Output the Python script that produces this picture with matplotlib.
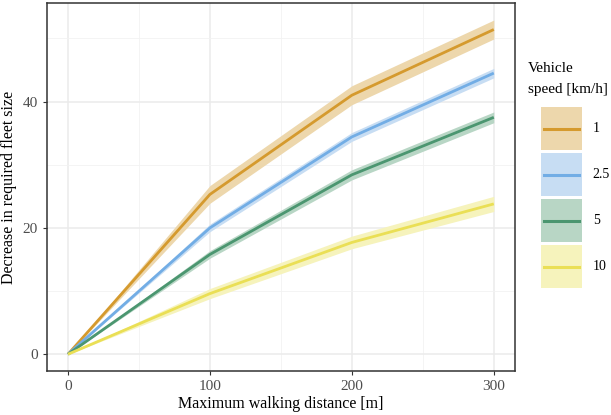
import numpy as np
import matplotlib
matplotlib.use("Agg")
import matplotlib.pyplot as plt
from matplotlib.patches import Rectangle
from matplotlib.lines import Line2D

plt.rcParams['font.family'] = ['Liberation Serif', 'DejaVu Serif']

# data
walk = [0, 100, 200, 300]
speeds = ['1', '2.5', '5', '10']
mean = {
    '1':   [0, 25.3, 41.0, 51.4],
    '2.5': [0, 20.0, 34.4, 44.5],
    '5':   [0, 15.8, 28.4, 37.5],
    '10':  [0, 9.6, 17.7, 23.8],
}
halfwidth = {
    '1':   [0, 1.4, 1.5, 1.5],
    '2.5': [0, 0.6, 0.7, 0.75],
    '5':   [0, 0.6, 0.8, 0.85],
    '10':  [0, 0.8, 1.0, 1.2],
}
line_col = {'1': '#D59A2E', '2.5': '#72ADE5', '5': '#4B9670', '10': '#EADF55'}
fill_col = {'1': '#EDD7AC', '2.5': '#C7DDF3', '5': '#B8D6C5', '10': '#F6F3BC'}


class KeyHandler:
    # filled key box with a centred line, like ggplot ribbon+line keys
    def legend_artist(self, legend, orig_handle, fontsize, handlebox):
        fill, line = orig_handle
        x0, y0 = -handlebox.xdescent, -handlebox.ydescent
        w, h = handlebox.width, handlebox.height
        tr = handlebox.get_transform()
        rect = Rectangle((x0, y0), w, h, facecolor=fill, edgecolor='none', transform=tr)
        ln = Line2D([x0 + 0.07 * w, x0 + 0.93 * w], [y0 + h / 2] * 2, color=line,
                    lw=2.2, transform=tr)
        handlebox.add_artist(rect)
        handlebox.add_artist(ln)
        return rect


fig = plt.figure(figsize=(6.11, 4.15), dpi=100)
ax = fig.add_axes([0.0764, 0.106, 0.843 - 0.0764, 0.9928 - 0.106])

handles = []
for s in speeds:
    m = np.array(mean[s])
    h = np.array(halfwidth[s])
    ax.fill_between(walk, m - h, m + h, color=fill_col[s], lw=0, zorder=2)
for s in speeds:
    ax.plot(walk, mean[s], color=line_col[s], lw=2, zorder=3, solid_capstyle='butt')
    handles.append((fill_col[s], line_col[s]))

ax.set_xlim(-15, 315)
ax.set_ylim(-2.65, 55.6)
ax.set_xticks([0, 100, 200, 300])
ax.set_yticks([0, 20, 40])
ax.set_xticks([50, 150, 250], minor=True)
ax.set_yticks([10, 30, 50], minor=True)
ax.grid(which='major', color='#EBEBEB', lw=1.1, zorder=0)
ax.grid(which='minor', color='#F2F2F2', lw=0.6, zorder=0)
ax.set_axisbelow(True)
ax.tick_params(which='major', length=3, color='#333333', labelcolor='#4D4D4D',
               labelsize=11, width=0.8)
ax.tick_params(which='minor', length=0)
for sp in ax.spines.values():
    sp.set_color('#333333')
    sp.set_linewidth(1.1)

ax.set_xlabel('Maximum walking distance [m]', fontsize=11.5, labelpad=2)
ax.set_ylabel('Decrease in required fleet size', fontsize=11.5, labelpad=4)

fig.text(0.864, 0.85, 'Vehicle\nspeed [km/h]', fontsize=11, va='top', ha='left',
         linespacing=1.75)
leg = fig.legend(handles, speeds, handler_map={tuple: KeyHandler()},
                 loc='upper left', bbox_to_anchor=(0.885, 0.742), frameon=False,
                 fontsize=10, handlelength=3.0, handleheight=4.38, labelspacing=0.22,
                 handletextpad=0.75, borderaxespad=0, borderpad=0)

fig.savefig('out.png', dpi=100)
